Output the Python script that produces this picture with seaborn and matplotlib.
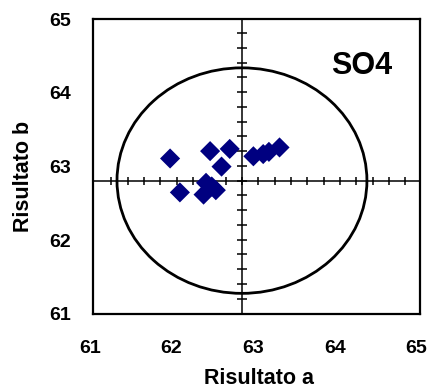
import numpy as np
import pandas as pd
import matplotlib
matplotlib.use("Agg")
import matplotlib.pyplot as plt
from matplotlib.patches import Ellipse
from matplotlib.transforms import ScaledTranslation
import seaborn as sns

# Laboratory results for SO4 (two replicate determinations a, b)
risultato_a = [61.94, 62.43, 62.67, 62.57, 62.96, 63.08, 63.15, 63.28,
               62.06, 62.35, 62.38, 62.50, 62.45]
risultato_b = [63.11, 63.21, 63.24, 63.00, 63.14, 63.17, 63.20, 63.26,
               62.65, 62.62, 62.78, 62.68, 62.73]

# Reference value (crosshair centre), tolerance radius and crosshair step
ref_a = 62.82
ref_b = 62.81
raggio = 1.53
passo = 0.2

ticks = [61, 62, 63, 64, 65]
analita = "SO4"

sns.set_style("white")
plt.rcParams["font.family"] = ["Liberation Sans", "DejaVu Sans"]
plt.rcParams["text.color"] = "black"
plt.rcParams["axes.labelcolor"] = "black"
plt.rcParams["xtick.color"] = "black"
plt.rcParams["ytick.color"] = "black"

fig = plt.figure(figsize=(4.33, 3.92), dpi=100)
ax = fig.add_axes([0.2155, 0.199, 0.7545, 0.752])

df = pd.DataFrame({"Risultato a": risultato_a, "Risultato b": risultato_b})

# Crosshair through the reference value
ax.axhline(ref_b, color="black", lw=1.1, zorder=1)
ax.axvline(ref_a, color="black", lw=1.1, zorder=1)

# Graduation marks along the crosshair
kx = np.arange(-8, 11)
ky = np.arange(-8, 11)
ax.plot(ref_a + kx * passo, np.full(len(kx), ref_b), ls="none",
        marker="|", ms=6, mew=1.1, color="black", zorder=1)
ax.plot(np.full(len(ky), ref_a), ref_b + ky * passo, ls="none",
        marker="_", ms=7.5, mew=1.1, color="black", zorder=1)

# Tolerance circle around the reference value
ax.add_patch(Ellipse((ref_a, ref_b), 2 * raggio, 2 * raggio, fill=False,
                     edgecolor="black", lw=2.0, zorder=2))

sns.scatterplot(data=df, x="Risultato a", y="Risultato b", marker="D",
                s=105, color="#000080", edgecolor="none", ax=ax, zorder=3)

ax.set_xlim(61, 65)
ax.set_ylim(61, 65)
ax.set_xticks(ticks)
ax.set_yticks(ticks)
ax.set_xticklabels([str(t) for t in ticks], fontsize=14, fontweight="bold")
ax.set_yticklabels([str(t) for t in ticks], fontsize=14, fontweight="bold")
ax.tick_params(axis="x", length=0, pad=19)
ax.tick_params(axis="y", length=0, pad=16)
shift = ScaledTranslation(-3.5 / 100, 0, fig.dpi_scale_trans)
for lab in ax.get_xticklabels():
    lab.set_transform(lab.get_transform() + shift)
ax.set_xlabel("Risultato a", fontsize=15.5, fontweight="bold")
ax.set_ylabel("Risultato b", fontsize=15.5, fontweight="bold")
ax.xaxis.set_label_coords(0.507, -0.182)
ax.yaxis.set_label_coords(-0.183, 0.467)

for sp in ax.spines.values():
    sp.set_visible(True)
    sp.set_color("black")
    sp.set_linewidth(1.6)

ax.text(0.916, 0.84, analita, transform=ax.transAxes, ha="right", va="center",
        fontsize=22, fontweight="bold")

fig.savefig("out.png", dpi=100, facecolor="white")
